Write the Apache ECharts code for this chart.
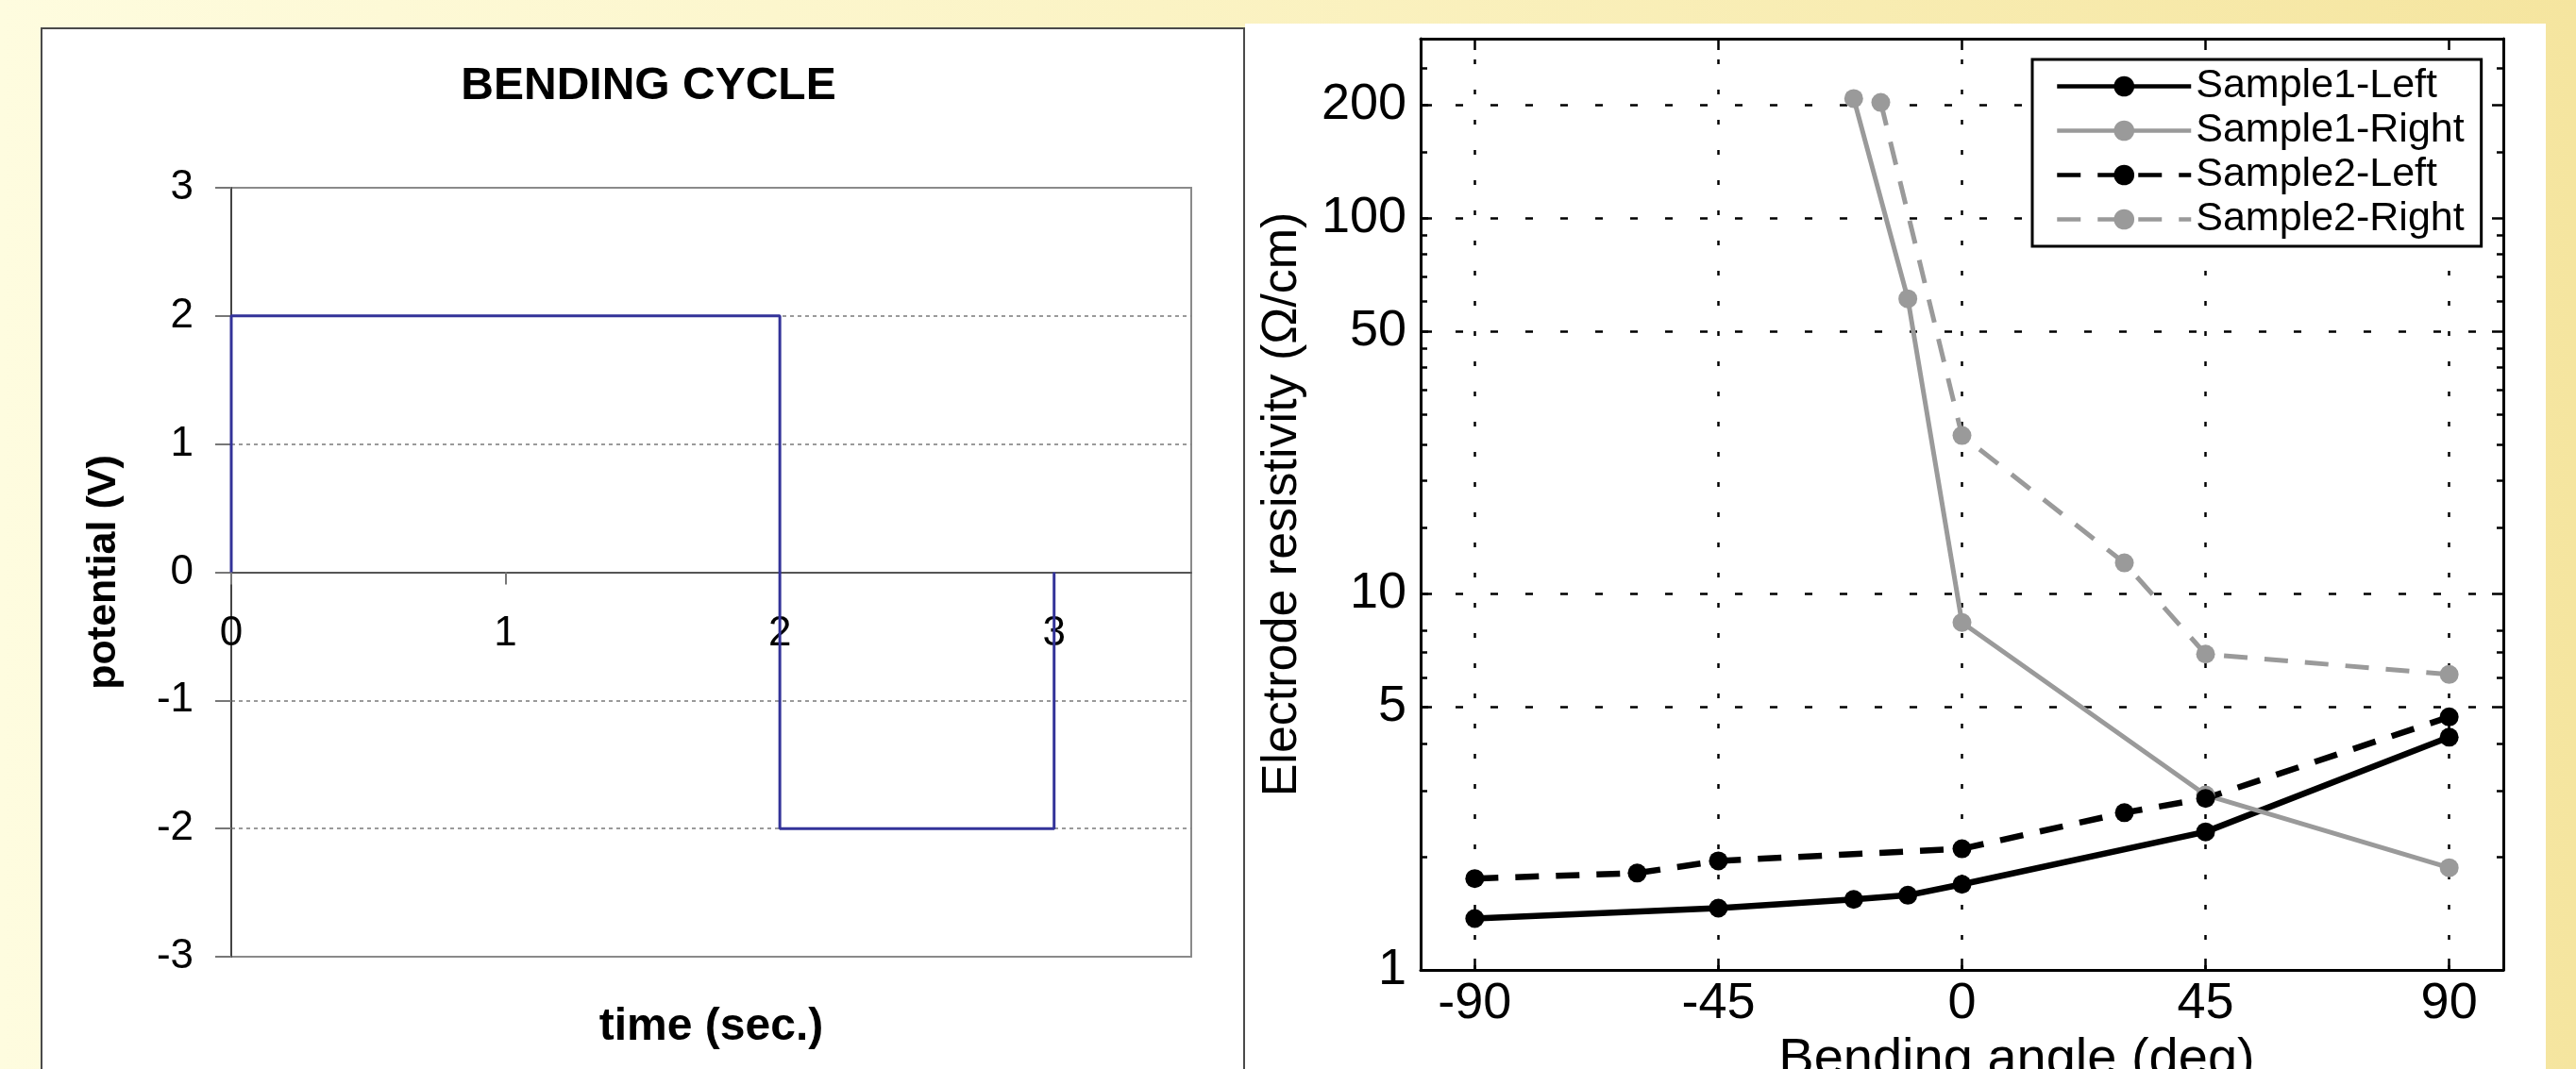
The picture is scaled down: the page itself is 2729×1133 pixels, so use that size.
<!DOCTYPE html>
<html>
<head>
<meta charset="utf-8">
<title>Bending cycle / electrode resistivity</title>
<script src="https://cdn.jsdelivr.net/npm/echarts@6/dist/echarts.min.js"></script>
<style>
  html, body { margin: 0; padding: 0; }
  body {
    width: 2729px; height: 1133px; overflow: hidden; position: relative;
    background: linear-gradient(to right, #fefcdf 0%, #fbf3c4 45%, #f5e59f 100%);
  }
  .panel { position: absolute; box-sizing: border-box; background: #fff; }
  #leftPanel { left: 43px; top: 29px; width: 1276px; height: 1120px; border: 2px solid #4a4a4a; }
  #rightPanel { left: 1319px; top: 25px; width: 1378px; height: 1120px; }
  #chart { position: absolute; left: 0; top: 0; width: 2729px; height: 1133px; }
</style>
</head>
<body>
<div class="panel" id="leftPanel"></div>
<div class="panel" id="rightPanel"></div>
<div id="chart"></div>
<script>
  // left chart: square wave of the bending cycle
  var cycleTime = [0, 0, 2, 2, 3, 3];
  var cyclePotential = [0, 2, 2, -2, -2, 0];
  var timeTicks = [0, 1, 2, 3];

  // right chart: resistivity vs bending angle
  var angleTicks = [-90, -45, 0, 45, 90];
  var resTicks = [1, 5, 10, 50, 100, 200];
  var resMinorTicks = [2, 3, 4, 6, 7, 8, 15, 20, 25, 30, 35, 40, 45, 60, 70, 80, 90, 150, 250];

  var s1LeftAngle = [-90, -45, -20, -10, 0, 45, 90];
  var s1LeftRes = [1.37, 1.46, 1.54, 1.58, 1.69, 2.33, 4.16];
  var s1RightAngle = [-20, -10, 0, 45, 90];
  var s1RightRes = [208, 61, 8.4, 2.92, 1.87];
  var s2LeftAngle = [-90, -60, -45, 0, 30, 45, 90];
  var s2LeftRes = [1.75, 1.81, 1.95, 2.10, 2.62, 2.86, 4.71];
  var s2RightAngle = [-15, 0, 30, 45, 90];
  var s2RightRes = [203, 26.4, 12.1, 6.92, 6.11];

  var FONT = "'Liberation Sans', Arial, Helvetica, sans-serif";

  // left plot box (px)
  var leftTop = 199, leftHeight = 815;

  function pairs(xs, ys) {
    return xs.map(function (x, i) { return [x, ys[i]]; });
  }

  var chart = echarts.init(document.getElementById('chart'), null, { renderer: 'canvas' });

  // right hand frame: ticks on all four sides, like matlab's box on
  function frameY(position, ticks, len, showLine) {
    return {
      gridIndex: 1, type: 'log', logBase: 10, min: 1, max: 300, position: position,
      axisLine: { show: showLine, onZero: false, lineStyle: { color: '#000', width: 3 } },
      axisTick: { show: true, inside: true, length: len, customValues: ticks, lineStyle: { color: '#000', width: 2.5 } },
      axisLabel: { show: false },
      splitLine: { show: false },
      minorTick: { show: false }
    };
  }

  var option = {
    animation: false,
    backgroundColor: 'transparent',
    textStyle: { fontFamily: FONT },
    title: {
      text: 'BENDING CYCLE',
      left: 682, top: 63, textAlign: 'center',
      textStyle: { fontFamily: FONT, fontWeight: 'bold', fontSize: 48, color: '#000' }
    },
    legend: {
      orient: 'vertical',
      left: 2153, top: 63, z: 10,
      data: ['Sample1-Left', 'Sample1-Right', 'Sample2-Left', 'Sample2-Right'],
      itemWidth: 142, itemHeight: 27, itemGap: 4,
      padding: [7, 18, 7, 24],
      backgroundColor: '#fff',
      borderColor: '#000', borderWidth: 3, borderRadius: 0,
      selectedMode: false,
      lineStyle: { width: 4.5 },
      textStyle: { fontFamily: FONT, fontSize: 43, color: '#000' }
    },
    grid: [
      { left: 245, top: leftTop, width: 1017, height: leftHeight, outerBoundsMode: 'none', containLabel: false,
        show: true, borderColor: '#8a8a8a', borderWidth: 2, backgroundColor: 'transparent' },
      { left: 1505, top: 41, width: 1147, height: 987, outerBoundsMode: 'none', containLabel: false }
    ],
    xAxis: [
      {
        // sits on the zero line: shifted up by half the plot height
        gridIndex: 0, type: 'value', min: 0, max: 3.5, interval: 1,
        offset: -leftHeight / 2,
        axisLine: { show: true, onZero: false, lineStyle: { color: '#555', width: 2 } },
        axisTick: { show: true, inside: false, length: 13, customValues: timeTicks, lineStyle: { color: '#777', width: 2 } },
        axisLabel: { customValues: timeTicks, margin: 43, fontSize: 44, color: '#000', fontFamily: FONT },
        splitLine: { show: false },
        name: 'time (sec.)', nameLocation: 'middle', nameGap: 458,
        nameTextStyle: { fontFamily: FONT, fontWeight: 'bold', fontSize: 48, color: '#000' }
      },
      {
        gridIndex: 1, type: 'value', min: -100, max: 100, position: 'bottom',
        axisLine: { show: true, onZero: false, lineStyle: { color: '#000', width: 3 } },
        axisTick: { show: true, inside: true, length: 12, customValues: angleTicks, lineStyle: { color: '#000', width: 2.5 } },
        axisLabel: { customValues: angleTicks, margin: 9, fontSize: 54, color: '#000', fontFamily: FONT },
        splitLine: { show: false },
        name: 'Bending angle (deg)', nameLocation: 'middle', nameGap: 55,
        nameTextStyle: { fontFamily: FONT, fontSize: 56, color: '#000', padding: [0, 0, 0, 116] }
      },
      {
        gridIndex: 1, type: 'value', min: -100, max: 100, position: 'top',
        axisLine: { show: true, onZero: false, lineStyle: { color: '#000', width: 3 } },
        axisTick: { show: true, inside: true, length: 12, customValues: angleTicks, lineStyle: { color: '#000', width: 2.5 } },
        axisLabel: { show: false },
        splitLine: { show: false }
      }
    ],
    yAxis: [
      {
        gridIndex: 0, type: 'value', min: -3, max: 3, interval: 1,
        axisLine: { show: true, onZero: false, lineStyle: { color: '#444', width: 2 } },
        axisTick: { show: true, inside: false, length: 17, lineStyle: { color: '#777', width: 2 } },
        axisLabel: { margin: 40, fontSize: 44, color: '#000', fontFamily: FONT },
        splitLine: { show: true, showMinLine: false, showMaxLine: false, lineStyle: { color: '#7a7a7a', width: 1.5, type: [4, 4] } },
        name: 'potential (V)', nameLocation: 'middle', nameGap: 113,
        nameTextStyle: { fontFamily: FONT, fontWeight: 'bold', fontSize: 43, color: '#000' }
      },
      {
        gridIndex: 1, type: 'log', logBase: 10, min: 1, max: 300, position: 'left',
        axisLine: { show: true, onZero: false, lineStyle: { color: '#000', width: 3 } },
        axisTick: { show: true, inside: true, length: 12, customValues: resTicks, lineStyle: { color: '#000', width: 2.5 } },
        axisLabel: { customValues: resTicks, margin: 15, fontSize: 54, color: '#000', fontFamily: FONT },
        splitLine: { show: false },
        minorTick: { show: false },
        name: 'Electrode resistivity (\u03A9/cm)', nameLocation: 'middle', nameGap: 120,
        nameTextStyle: { fontFamily: FONT, fontSize: 52, color: '#000' }
      },
      frameY('left', resMinorTicks, 7, false),
      frameY('right', resTicks, 12, true),
      frameY('right', resMinorTicks, 7, false)
    ],
    series: [
      {
        name: 'cycle', type: 'line', xAxisIndex: 0, yAxisIndex: 0,
        data: pairs(cycleTime, cyclePotential),
        symbol: 'none',
        lineStyle: { color: '#333399', width: 3 }
      },
      {
        // dotted grid of the right plot, drawn as mark lines under everything
        name: 'grid', type: 'line', xAxisIndex: 1, yAxisIndex: 1, z: 1, silent: true,
        data: pairs(s1LeftAngle, s1LeftRes),
        symbol: 'none',
        lineStyle: { opacity: 0 },
        markLine: {
          z: 1, silent: true, symbol: ['none', 'none'], label: { show: false },
          data: angleTicks.map(function (v) {
            return { xAxis: v, lineStyle: { color: '#000', width: 2.5, type: [5, 27] } };
          }).concat(resTicks.slice(1).map(function (v) {
            return { yAxis: v, lineStyle: { color: '#000', width: 2.5, type: [8, 29] } };
          }))
        }
      },
      {
        name: 'Sample1-Left', type: 'line', xAxisIndex: 1, yAxisIndex: 1,
        data: pairs(s1LeftAngle, s1LeftRes),
        symbol: 'circle', symbolSize: 20,
        itemStyle: { color: '#000' },
        lineStyle: { color: '#000', width: 6.5, type: 'solid' }
      },
      {
        name: 'Sample1-Right', type: 'line', xAxisIndex: 1, yAxisIndex: 1,
        data: pairs(s1RightAngle, s1RightRes),
        symbol: 'circle', symbolSize: 20,
        itemStyle: { color: '#9a9a9a' },
        lineStyle: { color: '#9a9a9a', width: 5, type: 'solid' }
      },
      {
        name: 'Sample2-Left', type: 'line', xAxisIndex: 1, yAxisIndex: 1,
        data: pairs(s2LeftAngle, s2LeftRes),
        symbol: 'circle', symbolSize: 20,
        itemStyle: { color: '#000' },
        lineStyle: { color: '#000', width: 6.5, type: [25, 18] }
      },
      {
        name: 'Sample2-Right', type: 'line', xAxisIndex: 1, yAxisIndex: 1,
        data: pairs(s2RightAngle, s2RightRes),
        symbol: 'circle', symbolSize: 20,
        itemStyle: { color: '#9a9a9a' },
        lineStyle: { color: '#9a9a9a', width: 5, type: [25, 18] }
      }
    ]
  };

  chart.setOption(option);
</script>
</body>
</html>
